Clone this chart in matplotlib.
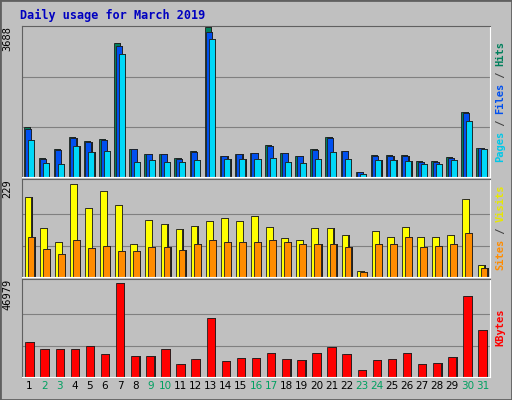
import matplotlib
matplotlib.use("Agg")
import matplotlib.pyplot as plt
import numpy as np

days = list(range(1, 32))
weekend = [2, 3, 9, 10, 16, 17, 23, 24, 30, 31]
files = [1190,455,660,960,860,910,3240,680,560,560,455,610,3570,506,560,580,760,580,506,660,960,630,126,530,530,530,380,380,480,1570,708]
pages = [910,354,330,760,610,630,3040,380,430,380,380,430,3415,455,455,455,480,380,354,455,610,455,76,430,430,405,330,330,430,1390,683]
hits = [1230,470,680,990,885,935,3300,700,575,575,470,630,3688,520,575,595,780,595,520,680,990,650,130,545,545,545,390,390,495,1610,725]
visits = [194,118,86,226,167,209,175,81,138,128,116,123,135,143,135,148,121,94,91,118,118,103,15,113,98,121,96,96,103,190,30]
sites = [96,69,57,89,71,76,62,64,74,74,66,81,89,84,86,84,89,84,79,81,79,74,12,79,79,96,74,76,81,106,22]
kbytes = [17340,13770,13770,13770,15300,11220,46979,10710,10710,13770,6630,9180,29580,8160,9690,9690,11730,9180,8670,11730,14790,11220,3570,8670,9180,11730,6630,7140,10200,40290,23460]

BG = "#C0C0C0"
W, H = 512, 400
fig = plt.figure(figsize=(W/100, H/100), dpi=100, facecolor=BG)
mono = "DejaVu Sans Mono"
fig.add_artist(plt.Rectangle((0, 0), 1, 1, transform=fig.transFigure, fill=False, ec="#606060", lw=2))
fig.text(20/W, 1-15/H, "Daily usage for March 2019", color="#0000C0", family=mono,
         fontweight="bold", fontsize=8.5, va="center")

def ax_at(y0, y1):
    ax = fig.add_axes([22/W, 1-y1/H, 468/W, (y1-y0)/H], facecolor=BG)
    ax.set_xlim(0.5, 31.5)
    for s in ax.spines.values():
        s.set_color("#606060")
    ax.spines["bottom"].set_color("white"); ax.spines["right"].set_color("white")
    ax.set_xticks([]); ax.set_yticks([])
    return ax

x = np.array(days)
def bars(ax, vals, off, w, color):
    ax.bar(x+off+0.08, vals, w, color="#202020")
    ax.bar(x+off, vals, w, color=color, edgecolor="#202020", lw=0.6)

def grid(ax, m):
    for f in (1/3, 2/3):
        ax.axhline(m*f, color="#808080", lw=0.8, zorder=0)

ax1 = ax_at(26, 177)
m1 = 3688
ax1.set_ylim(0, m1*1.01)
grid(ax1, m1)
bars(ax1, hits, -0.2, 0.4, "#00805C")
bars(ax1, files, -0.1, 0.4, "#0050F0")
bars(ax1, pages, 0.1, 0.4, "#00D8F8")

ax2 = ax_at(179, 277)
m2 = 229
ax2.set_ylim(0, m2*1.04)
grid(ax2, m2)
bars(ax2, visits, -0.1, 0.45, "#FFFF00")
bars(ax2, sites, 0.1, 0.45, "#FF8C00")

ax3 = ax_at(279, 377)
m3 = 46979
ax3.set_ylim(0, m3*1.04)
grid(ax3, m3)
bars(ax3, kbytes, 0.0, 0.55, "#FF0000")

for ax, lab in ((ax1, "3688"), (ax2, "229"), (ax3, "46979")):
    ax.text(-0.02, 1.0, lab, transform=ax.transAxes, rotation=90, ha="right", va="top",
            family=mono, fontsize=7.5)

def rlabel(ax, parts):
    tot = sum(len(p) for p, _ in parts)
    fig_h = ax.get_position().height * H
    step = 6.0 / fig_h
    y = 0.5 - tot*step/2 if tot*step < 1 else 0.0
    for t, c in parts:
        ax.text(1.012, y, t, transform=ax.transAxes, rotation=90, ha="left", va="bottom",
                family=mono, fontsize=7.5, color=c, fontweight="bold")
        y += len(t)*step

rlabel(ax1, [("Pages", "#00C8E8"), (" / ", "#404040"), ("Files", "#0050F0"), (" / ", "#404040"), ("Hits", "#00805C")])
rlabel(ax2, [("Sites", "#FF8C00"), (" / ", "#404040"), ("Visits", "#E8E800")])
rlabel(ax3, [("KBytes", "#FF0000")])

for d in days:
    ax3.text(d, -0.04, str(d), transform=ax3.get_xaxis_transform(), ha="center", va="top",
             fontsize=7.5, color="#00A060" if d in weekend else "black")

fig.savefig("out.png", dpi=100, facecolor=BG)
